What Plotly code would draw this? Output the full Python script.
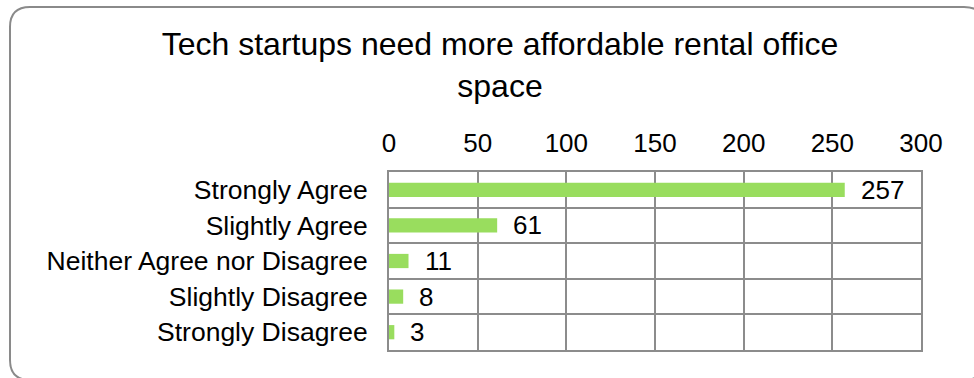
import plotly.graph_objects as go

# Survey responses
categories = ["Strongly Agree", "Slightly Agree", "Neither Agree nor Disagree",
              "Slightly Disagree", "Strongly Disagree"]
counts = [257, 61, 11, 8, 3]
tick_values = [0, 50, 100, 150, 200, 250, 300]

title_text = "Tech startups need more affordable rental office<br>space"

W, H = 974, 378
L, R, T, B = 389, 53, 172, 28
plot_w = W - L - R
plot_h = H - T - B

GRID = "#8C8C8C"
BAR = "#99DD5E"
FONT = "Liberation Sans, Arial, sans-serif"


def px_x(px):
    return (px - L) / plot_w


def px_y(py):
    return (H - B - py) / plot_h


fig = go.Figure()
fig.add_trace(go.Bar(
    x=counts,
    y=categories,
    orientation="h",
    width=0.4,
    marker=dict(color=BAR, line=dict(width=0)),
    hoverinfo="skip",
))

# value labels just past the end of each bar
for cat, val in zip(categories, counts):
    fig.add_annotation(
        x=val, y=cat, xref="x", yref="y",
        text=str(val), showarrow=False,
        xanchor="left", yanchor="middle", xshift=14,
        font=dict(family=FONT, size=26, color="black"),
    )

# rounded frame around the whole chart
r = 20
x0, x1 = px_x(10), px_x(984)
y0, y1 = px_y(7), px_y(380)
rx, ry = r / plot_w, r / plot_h
path = (
    f"M {x0},{y0 - ry} "
    f"Q {x0},{y0} {x0 + rx},{y0} "
    f"L {x1 - rx},{y0} "
    f"Q {x1},{y0} {x1},{y0 - ry} "
    f"L {x1},{y1 + ry} "
    f"Q {x1},{y1} {x1 - rx},{y1} "
    f"L {x0 + rx},{y1} "
    f"Q {x0},{y1} {x0},{y1 + ry} Z"
)
fig.add_shape(type="path", path=path, xref="paper", yref="paper",
              line=dict(color="#8A8A8A", width=2), layer="below")

fig.update_layout(
    width=W, height=H,
    margin=dict(l=L, r=R, t=T, b=B, pad=0),
    paper_bgcolor="white",
    plot_bgcolor="white",
    showlegend=False,
    font=dict(family=FONT, size=26, color="black"),
    title=dict(
        text=title_text,
        x=500 / W, xanchor="center", xref="container",
        y=1 - 55 / H, yanchor="top", yref="container",
        font=dict(family=FONT, size=32, color="black"),
    ),
    xaxis=dict(
        side="top",
        range=[0, 300],
        tickvals=tick_values,
        ticks="",
        ticklabelstandoff=8,
        showgrid=True, gridcolor=GRID, gridwidth=2,
        showline=True, linecolor=GRID, linewidth=2, mirror=True,
        zeroline=False,
        tickfont=dict(family=FONT, size=26, color="black"),
        fixedrange=True,
    ),
    yaxis=dict(
        categoryorder="array",
        categoryarray=categories,
        autorange="reversed",
        tickson="boundaries",
        ticks="",
        ticklabelstandoff=14,
        showgrid=True, gridcolor=GRID, gridwidth=2,
        showline=True, linecolor=GRID, linewidth=2, mirror=True,
        tickfont=dict(family=FONT, size=26.5, color="black"),
        fixedrange=True,
    ),
)

fig.write_html("out.html")
